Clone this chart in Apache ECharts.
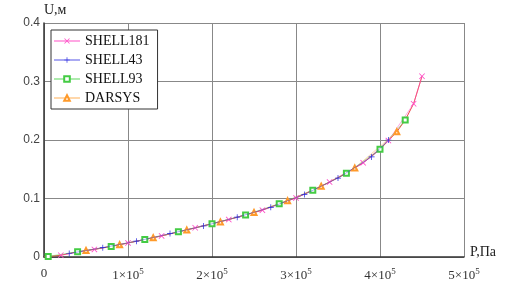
<!DOCTYPE html>
<html><head><meta charset="utf-8">
<script src="https://cdn.jsdelivr.net/npm/echarts@6/dist/echarts.min.js"></script>
<style>html,body{margin:0;padding:0;background:#fff}#c{width:506px;height:299px}</style>
</head><body><div id="c"></div>
<script>
// main curve (red trace)
const curveP = [0,0.2e5,0.4e5,0.6e5,0.8e5,1.0e5,1.2e5,1.4e5,1.6e5,1.8e5,2.0e5,2.2e5,2.4e5,2.6e5,2.8e5,3.0e5,3.2e5,3.4e5,3.6e5,3.8e5,4.0e5,4.1e5,4.2e5,4.3e5,4.4e5,4.5e5];
const curveU = [0,0.003,0.009,0.013,0.018,0.024,0.030,0.036,0.043,0.050,0.057,0.064,0.072,0.080,0.091,0.101,0.114,0.128,0.143,0.161,0.184,0.199,0.214,0.234,0.262,0.309];
const s181P = [0.2e5,0.6e5,1.0e5,1.4e5,1.8e5,2.2e5,2.6e5,3.0e5,3.4e5,3.8e5,4.1e5,4.4e5,4.5e5];
const s181U = [0.003,0.013,0.024,0.036,0.050,0.064,0.080,0.101,0.128,0.161,0.199,0.262,0.309];
const s43P = [0.3e5,0.7e5,1.1e5,1.5e5,1.9e5,2.3e5,2.7e5,3.1e5,3.5e5,3.9e5,4.1e5];
const s43U = [0.006,0.016,0.027,0.040,0.053,0.068,0.085,0.107,0.135,0.171,0.200];
const s93P = [0.05e5,0.4e5,0.8e5,1.2e5,1.6e5,2.0e5,2.4e5,2.8e5,3.2e5,3.6e5,4.0e5,4.3e5];
const s93U = [0.001,0.009,0.018,0.030,0.043,0.057,0.072,0.091,0.114,0.143,0.184,0.234];
const darP = [0.5e5,0.9e5,1.3e5,1.7e5,2.1e5,2.5e5,2.9e5,3.3e5,3.7e5,4.2e5];
const darU = [0.011,0.021,0.033,0.046,0.060,0.076,0.096,0.121,0.152,0.214];
const seriesNames = ['SHELL181','SHELL43','SHELL93','DARSYS'];
const xTickMult = ['0','1','2','3','4','5'];

const zip = (a,b)=>a.map((v,i)=>[v,b[i]]);
const xMark = 'path://M0,1 L1,0 L5,4 L9,0 L10,1 L6,5 L10,9 L9,10 L5,6 L1,10 L0,9 L4,5 Z';
const plusMark = 'path://M4.4,0 H5.6 V4.4 H10 V5.6 H5.6 V10 H4.4 V5.6 H0 V4.4 H4.4 Z';

const chart = echarts.init(document.getElementById('c'));
chart.setOption({
  animation:false,
  backgroundColor:'#fff',
  grid:{left:44,right:42,top:23,bottom:42,containLabel:false},
  legend:{
    orient:'vertical', left:51, top:30, padding:[4,8,4,2], itemGap:5,
    backgroundColor:'#fff', borderColor:'#333', borderWidth:1,
    itemWidth:26, itemHeight:7,
    data:seriesNames,
    textStyle:{fontFamily:'Liberation Serif', fontSize:14, color:'#111'}
  },
  xAxis:{
    type:'value', min:0, max:5e5, interval:1e5,
    name:'P,Па', nameLocation:'end', nameGap:6,
    nameTextStyle:{fontFamily:'Liberation Serif', fontSize:14, color:'#222', verticalAlign:'bottom', padding:[0,0,-2,0]},
    axisLine:{lineStyle:{color:'#333',width:1.5}},
    axisTick:{show:false},
    splitLine:{show:true,lineStyle:{color:'#888',width:1}},
    axisLabel:{
      margin:10, color:'#333',
      formatter:function(v){const i=Math.round(v/1e5); return i===0?'{b|0}':'{b|'+xTickMult[i]+'×10}{s|5}';},
      rich:{b:{fontFamily:'Liberation Serif',fontSize:13,color:'#333'},s:{fontFamily:'Liberation Serif',fontSize:9,color:'#333',verticalAlign:'top',padding:[0,0,8,0]}}
    }
  },
  yAxis:{
    type:'value', min:0, max:0.4, interval:0.1,
    name:'U,м', nameLocation:'end', nameGap:5,
    nameTextStyle:{fontFamily:'Liberation Serif', fontSize:14, color:'#222', align:'left', padding:[0,0,0,0]},
    axisLine:{show:true,lineStyle:{color:'#333',width:1.5}},
    axisTick:{show:false},
    splitLine:{show:true,lineStyle:{color:'#888',width:1}},
    axisLabel:{margin:4, color:'#444', fontFamily:'Liberation Sans', fontSize:12,
      formatter:v=>v===0?'0':v.toFixed(1)}
  },
  series:[
    {type:'line', name:'curve', data:zip(curveP,curveU), showSymbol:false, symbol:'none', smooth:false,
     lineStyle:{color:'#ee4848',width:1}, z:1},
    {type:'line', name:'SHELL181', data:zip(s181P,s181U), symbol:xMark, symbolSize:6,
     lineStyle:{color:'#ff4fc8',width:1,opacity:0.5}, itemStyle:{color:'#ff4fc8'}, z:3},
    {type:'line', name:'SHELL43', data:zip(s43P,s43U), symbol:plusMark, symbolSize:6,
     lineStyle:{color:'#2a2ae0',width:1,opacity:0.4}, itemStyle:{color:'#2a2ae0'}, z:4},
    {type:'line', name:'SHELL93', data:zip(s93P,s93U), symbol:'emptyRect', symbolSize:5,
     lineStyle:{color:'#33cc33',width:1,opacity:0.4}, itemStyle:{color:'#44cc44',borderWidth:1}, z:3},
    {type:'line', name:'DARSYS', data:zip(darP,darU), symbol:'emptyTriangle', symbolSize:5,
     lineStyle:{color:'#ff9a2a',width:1,opacity:0.4}, itemStyle:{color:'#ff9a2a',borderWidth:1}, z:3}
  ]
});
</script></body></html>
